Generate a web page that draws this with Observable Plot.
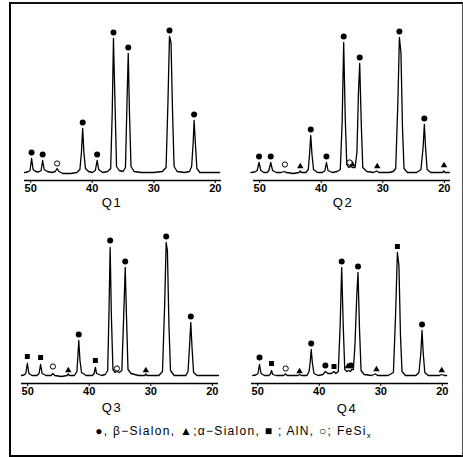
<!DOCTYPE html>
<html>
<head>
<meta charset="utf-8">
<script src="https://cdn.jsdelivr.net/npm/d3@7"></script>
<script src="https://cdn.jsdelivr.net/npm/@observablehq/plot@0.6"></script>
<style>
  html, body { margin: 0; padding: 0; background: #fff; }
  #root { position: relative; width: 463px; height: 457px; overflow: hidden; font-family: "Liberation Sans", Arial, sans-serif; color: #000; }
  #frame { position: absolute; left: 9px; top: 2px; width: 451px; height: 451px; border-left: 2px solid #000; border-top: 2px solid #111; border-bottom: 2px solid #000; border-right: 1px solid #555; }
  .panel { position: absolute; }
  .qlab { position: absolute; transform: translate(-50%, -50%); font-size: 13px; letter-spacing: 1.5px; }
  #legend { position: absolute; left: 233px; top: 432px; transform: translate(-50%, -50%); font-size: 12px; letter-spacing: 1.3px; white-space: nowrap; }
  #legend sub { font-size: 8px; letter-spacing: 0; }
</style>
</head>
<body>
<div id="root">
  <div id="frame"></div>
</div>
<script>
// Diffraction traces: [2θ (deg), intensity (arb.)]
const q1Trace = [
  [51.0,0],[50.5,0.5],[50.1,2],[49.85,14],[49.6,3],[49.2,1],[48.7,0.5],[48.3,2],[48.05,12],[47.8,3],[47.3,1],
  [46.6,0],[46.0,1],[45.7,4],[45.4,1],[44.8,-1],[43.5,-1],[42.5,0],[42.0,3],[41.75,20],[41.55,44],[41.35,20],
  [41.1,4],[40.6,1],[40.0,0],[39.5,2],[39.2,12],[38.95,3],[38.3,0],[37.5,1],[37.0,4],[36.75,60],[36.55,134],
  [36.3,70],[36.05,6],[35.6,2],[35.0,1],[34.6,5],[34.35,70],[34.15,119],[33.95,60],[33.7,6],[33.2,1],[32.0,0],
  [30.0,0],[28.6,1],[28.0,5],[27.7,70],[27.45,136],[27.2,130],[26.95,60],[26.7,6],[26.2,1],[25.0,0],[24.2,1],
  [23.85,6],[23.6,30],[23.45,52],[23.25,30],[23.0,4],[22.5,0],[21.0,0],[19.3,0]
];
const q2Trace = [
  [51.4,0],[50.8,0.5],[50.4,2],[50.1,10],[49.8,2],[49.3,0],[48.8,0],[48.5,2],[48.2,10],[47.9,2],[47.3,0],
  [46.5,0],[46.0,1],[45.7,0],[44.5,-1],[43.6,0],[43.4,1.5],[43.2,0],[42.5,0],[42.1,3],[41.9,18],[41.7,37],
  [41.5,18],[41.25,3],[40.6,0],[39.8,0],[39.4,2],[39.15,10],[38.9,2],[38.2,0],[37.4,1],[36.9,3],[36.6,50],
  [36.35,130],[36.1,55],[35.85,8],[35.5,5],[35.2,6],[34.9,5],[34.5,5],[34.2,20],[33.95,80],[33.75,109],
  [33.5,50],[33.25,5],[32.6,1],[31.5,0],[31.0,1.5],[30.6,0],[29.0,0],[28.3,1],[27.9,4],[27.55,70],[27.3,135],
  [27.05,120],[26.8,45],[26.55,4],[26.0,0],[24.5,0],[23.8,3],[23.45,25],[23.25,48],[23.05,25],[22.8,3],
  [22.2,0],[21.0,0],[20.3,0],[20.1,1.5],[19.9,0],[19.2,0]
];
const q3Trace = [
  [51.0,0],[50.6,0.5],[50.3,2],[50.05,12],[49.8,2],[49.3,0],[48.5,0],[48.15,2],[47.9,11],[47.65,2],[47.0,0],
  [46.2,0],[45.9,2],[45.6,0],[44.5,-1],[43.6,0],[43.4,1.5],[43.2,0],[42.4,0],[42.0,4],[41.85,18],[41.7,35],
  [41.5,15],[41.25,3],[40.5,0],[39.5,0],[39.2,2],[39.0,8],[38.8,2],[38.0,0],[37.4,1],[37.0,5],[36.8,60],
  [36.6,128],[36.4,60],[36.15,6],[35.8,3],[35.5,4],[35.1,3],[34.7,5],[34.45,50],[34.15,108],[33.95,60],
  [33.7,6],[33.2,2],[32.0,0],[31.0,0],[30.8,1.5],[30.6,0],[28.7,0],[28.1,4],[27.75,70],[27.5,133],[27.3,125],
  [27.05,50],[26.8,5],[26.2,0],[24.3,0],[23.95,4],[23.7,30],[23.5,53],[23.3,28],[23.05,3],[22.5,0],[21.0,0],[19.0,0]
];
const q4Trace = [
  [50.8,0],[50.3,0.5],[49.95,2],[49.7,11],[49.45,2],[48.9,0],[48.2,0],[47.95,1],[47.75,5],[47.55,1],[47.0,0],
  [45.8,0],[45.5,1.5],[45.2,0],[43.5,0],[43.2,1],[42.9,0],[42.0,0],[41.65,4],[41.45,14],[41.3,26],[41.1,12],
  [40.85,2],[40.2,0],[39.4,1],[39.0,4],[38.6,2],[38.0,2],[37.6,4],[37.3,2],[36.9,4],[36.6,50],[36.35,108],
  [36.1,50],[35.85,6],[35.5,4],[35.2,5],[34.95,4],[34.7,6],[34.45,6],[34.2,30],[33.9,80],[33.7,103],[33.45,45],
  [33.2,5],[32.7,1],[31.5,0],[30.9,1.5],[30.5,0],[28.8,0],[27.95,3],[27.6,60],[27.3,123],[27.05,110],[26.8,40],
  [26.55,4],[26.0,0],[24.3,0],[23.8,3],[23.5,22],[23.3,45],[23.1,22],[22.85,3],[22.3,0],[20.5,0],[20.1,1],[19.7,0],[19.3,0]
];

// Phase markers: [2θ, height, phase]  b = β-Sialon, a = α-Sialon, n = AlN, f = FeSix
const q1Marks = [
  [49.85,20,"b"],[48.05,18,"b"],[45.7,9,"f"],[41.55,50,"b"],[39.2,18,"b"],[36.55,140,"b"],[34.15,125,"b"],
  [27.45,142,"b"],[23.45,58,"b"]
];
const q2Marks = [
  [50.1,16,"b"],[48.2,16,"b"],[45.9,8,"f"],[43.4,6,"a"],[41.7,43,"b"],[39.15,16,"b"],[36.35,136,"b"],
  [35.4,10,"f"],[34.95,8,"a"],[33.75,115,"b"],[30.9,6,"a"],[27.3,141,"b"],[23.25,54,"b"],[20.05,7,"a"]
];
const q3Marks = [
  [50.05,19,"n"],[47.9,18,"n"],[45.9,9,"f"],[43.4,5,"a"],[41.7,41,"b"],[39.0,15,"n"],[36.6,135,"b"],
  [35.5,7,"f"],[34.15,114,"b"],[30.8,5,"a"],[27.5,139,"b"],[23.5,59,"b"]
];
const q4Marks = [
  [49.7,18,"b"],[47.75,12,"n"],[45.45,7,"f"],[43.2,4,"a"],[41.3,32,"b"],[39.0,10,"b"],[37.6,9,"n"],
  [36.35,114,"b"],[35.35,9,"a"],[34.85,10,"b"],[33.7,109,"b"],[30.7,6,"a"],[27.3,129,"n"],[23.3,51,"b"],[20.1,5,"a"]
];

const tickValues = [50, 40, 30, 20];
const panels = [
  {name: "Q1", trace: q1Trace, marks: q1Marks, left: 14.3, top: 20, lx: 112, ly: 202},
  {name: "Q2", trace: q2Trace, marks: q2Marks, left: 243.3, top: 20, lx: 343, ly: 202},
  {name: "Q3", trace: q3Trace, marks: q3Marks, left: 11.3, top: 223, lx: 112, ly: 407},
  {name: "Q4", trace: q4Trace, marks: q4Marks, left: 240.8, top: 223, lx: 347, ly: 408}
];

const root = document.getElementById("root");
const X = d => d[0], Y = d => d[1];

for (const p of panels) {
  const svg = Plot.plot({
    width: 217, height: 180,
    marginLeft: 10, marginRight: 10, marginTop: 10, marginBottom: 20,
    x: {domain: [19, 51], reverse: true, ticks: tickValues, tickSize: 3, tickPadding: 1, tickFormat: d => String(d), label: null},
    y: {domain: [-8, 142], axis: null},
    style: {fontSize: "11px", fontWeight: "bold", fontFamily: "'Liberation Sans', Arial, sans-serif", color: "#000", background: "transparent", overflow: "visible"},
    marks: [
      Plot.ruleY([-8], {stroke: "#000", strokeWidth: 1.6}),
      Plot.line(p.trace, {x: X, y: Y, stroke: "#000", strokeWidth: 1.3, strokeLinejoin: "round"}),
      Plot.dot(p.marks.filter(d => d[2] === "b"), {x: X, y: Y, r: 3, fill: "#000", stroke: "none"}),
      Plot.dot(p.marks.filter(d => d[2] === "a"), {x: X, y: Y, r: 2.4, symbol: "triangle", fill: "#000", stroke: "none"}),
      Plot.dot(p.marks.filter(d => d[2] === "n"), {x: X, y: Y, r: 2.8, symbol: "square", fill: "#000", stroke: "none"}),
      Plot.dot(p.marks.filter(d => d[2] === "f"), {x: X, y: Y, r: 2.6, fill: "#fff", stroke: "#000", strokeWidth: 1})
    ]
  });
  svg.classList.add("panel");
  svg.style.left = p.left + "px";
  svg.style.top = p.top + "px";
  root.appendChild(svg);

  const lab = document.createElement("div");
  lab.className = "qlab";
  lab.textContent = p.name;
  lab.style.left = p.lx + "px";
  lab.style.top = p.ly + "px";
  root.appendChild(lab);
}

const legend = document.createElement("div");
legend.id = "legend";
legend.innerHTML = "●, β−Sialon, ▲;α−Sialon, ■ ; AlN, ○; FeSi<sub>x</sub>";
root.appendChild(legend);
</script>
</body>
</html>
